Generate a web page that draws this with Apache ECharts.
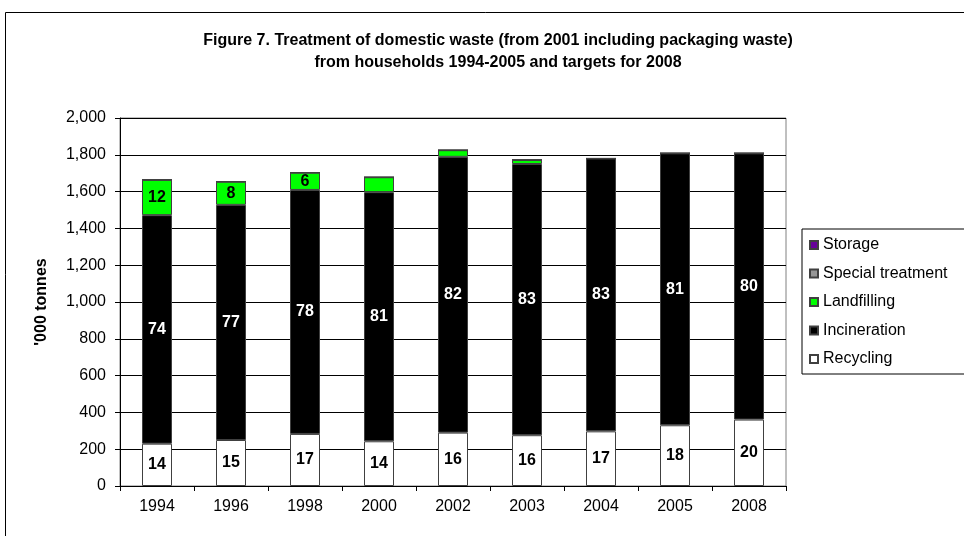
<!DOCTYPE html>
<html>
<head>
<meta charset="utf-8">
<script src="https://cdn.jsdelivr.net/npm/echarts@6/dist/echarts.min.js"></script>
<style>
  html, body { margin: 0; padding: 0; background: #fff; }
  #chart { width: 964px; height: 536px; }
</style>
</head>
<body>
<div id="chart"></div>
<script>
// data ('000 tonnes), labels are shares in %
var years = ['1994', '1996', '1998', '2000', '2002', '2003', '2004', '2005', '2008'];
var recycling = [230, 250, 283, 243, 290, 276, 297, 330, 361];
var incineration = [1242, 1278, 1326, 1354, 1499, 1474, 1483, 1478, 1447];
var landfilling = [192, 126, 94, 81, 36, 22, 0, 0, 0];
var specialTreatment = [0, 0, 0, 0, 0, 0, 0, 0, 0];
var storage = [0, 0, 0, 0, 0, 0, 0, 0, 0];

var recyclingPct = [14, 15, 17, 14, 16, 16, 17, 18, 20];
var incinerationPct = [74, 77, 78, 81, 82, 83, 83, 81, 80];
var landfillingPct = [12, 8, 6, '', '', '', '', '', ''];

var yTicks = [0, 200, 400, 600, 800, 1000, 1200, 1400, 1600, 1800, 2000];

var chart = echarts.init(document.getElementById('chart'));

function pctLabel(list, color) {
    return {
        show: true,
        position: 'inside',
        color: color,
        fontFamily: 'Liberation Sans',
        fontWeight: 'bold',
        fontSize: 16,
        formatter: function(p) {
            return list[p.dataIndex];
        }
    };
}

var barStyle = function(color) {
    return { color: color, borderColor: '#404040', borderWidth: 1 };
};

var option = {
    animation: false,
    textStyle: { fontFamily: 'Liberation Sans' },
    title: {
        text: 'Figure 7. Treatment of domestic waste (from 2001 including packaging waste)\nfrom households 1994-2005 and targets for 2008',
        left: 493,
        top: 25,
        textAlign: 'center',
        textStyle: {
            fontFamily: 'Liberation Sans',
            fontSize: 16,
            fontWeight: 'bold',
            color: '#000',
            lineHeight: 22
        }
    },
    graphic: [{
        type: 'rect',
        shape: { x: 5.5, y: 12.5, width: 980, height: 540 },
        style: { fill: 'none', stroke: '#000', lineWidth: 1 },
        silent: true
    }],
    legend: {
        orient: 'vertical',
        left: 802,
        top: 229,
        data: ['Storage', 'Special treatment', 'Landfilling', 'Incineration', 'Recycling'],
        icon: 'rect',
        itemWidth: 8,
        itemHeight: 8,
        itemGap: 12.5,
        padding: [8, 40, 7, 7],
        borderColor: '#000',
        borderWidth: 1,
        backgroundColor: '#fff',
        textStyle: { fontFamily: 'Liberation Sans', fontSize: 16, color: '#000', padding: [0, 0, 0, 0] }
    },
    grid: {
        left: 120,
        right: 178,
        top: 118,
        bottom: 50,
        show: true,
        borderColor: '#808080',
        borderWidth: 1
    },
    xAxis: {
        type: 'category',
        data: years,
        axisLine: { lineStyle: { color: '#000' } },
        axisTick: { show: true, alignWithLabel: false, length: 5, lineStyle: { color: '#000' } },
        axisLabel: { color: '#000', fontSize: 16, margin: 13 }
    },
    yAxis: {
        type: 'value',
        min: 0,
        max: 2000,
        interval: 200,
        name: "'000 tonnes",
        nameLocation: 'middle',
        nameGap: 70,
        nameTextStyle: { fontFamily: 'Liberation Sans', fontWeight: 'bold', fontSize: 16, color: '#000' },
        axisLine: { show: true, lineStyle: { color: '#000' } },
        axisTick: { show: true, length: 5, lineStyle: { color: '#000' } },
        axisLabel: {
            color: '#000',
            fontSize: 16,
            margin: 14,
            formatter: function(v) {
                return yTicks.indexOf(v) >= 0 ? v.toLocaleString('en-US') : '';
            }
        },
        splitLine: { lineStyle: { color: '#000', width: 1 } }
    },
    series: [
        {
            name: 'Recycling', type: 'bar', stack: 'w', barWidth: 30,
            data: recycling, itemStyle: barStyle('#ffffff'),
            label: pctLabel(recyclingPct, '#000')
        },
        {
            name: 'Incineration', type: 'bar', stack: 'w',
            data: incineration, itemStyle: barStyle('#000000'),
            label: pctLabel(incinerationPct, '#fff')
        },
        {
            name: 'Landfilling', type: 'bar', stack: 'w',
            data: landfilling, itemStyle: barStyle('#00ff00'),
            label: pctLabel(landfillingPct, '#000')
        },
        {
            name: 'Special treatment', type: 'bar', stack: 'w',
            data: specialTreatment, itemStyle: barStyle('#969696')
        },
        {
            name: 'Storage', type: 'bar', stack: 'w',
            data: storage, itemStyle: barStyle('#660099')
        }
    ]
};

chart.setOption(option);
</script>
</body>
</html>
